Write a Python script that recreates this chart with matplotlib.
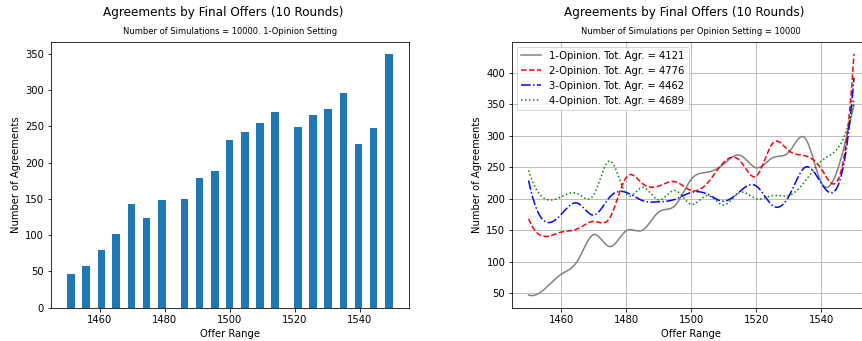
import numpy as np
import matplotlib
matplotlib.use("Agg")
import matplotlib.pyplot as plt

# ---- data ----
bar_offers = [1451.2, 1455.8, 1460.5, 1465.1, 1469.8, 1474.4, 1479.1, 1486.1, 1490.7,
              1495.4, 1500.0, 1504.7, 1509.4, 1514.0, 1521.0, 1525.7, 1530.3, 1535.0,
              1539.7, 1544.3, 1549.0]
bar_counts = [47, 57, 80, 101, 143, 124, 149, 150, 179, 189, 231, 242, 255, 269,
              249, 265, 274, 296, 225, 247, 349]

line_offers = [1450, 1455, 1460, 1465, 1470, 1475, 1480, 1485, 1490, 1495, 1500,
               1505, 1510, 1515, 1520, 1525, 1530, 1535, 1540, 1545, 1550]
op1 = bar_counts
op2 = [168, 140, 147, 152, 164, 170, 234, 224, 220, 227, 213, 225, 258, 260, 236,
       288, 276, 268, 247, 229, 430]
op3 = [229, 164, 175, 193, 174, 203, 210, 197, 195, 199, 210, 207, 196, 212, 220,
       189, 204, 250, 224, 220, 392]
op4 = [245, 200, 203, 208, 206, 260, 207, 218, 198, 213, 191, 205, 190, 210, 200,
       205, 205, 228, 260, 280, 357]
labels = ["1-Opinion. Tot. Agr. = 4121", "2-Opinion. Tot. Agr. = 4776",
          "3-Opinion. Tot. Agr. = 4462", "4-Opinion. Tot. Agr. = 4689"]
colors = ["gray", "red", "blue", "green"]
styles = ["-", "--", "-.", ":"]

main_title = "Agreements by Final Offers (10 Rounds)"
sub_left = "Number of Simulations = 10000. 1-Opinion Setting"
sub_right = "Number of Simulations per Opinion Setting = 10000"


def spline(x, y, xs):
    """Cubic interpolating spline with not-a-knot end conditions."""
    x = np.asarray(x, float); y = np.asarray(y, float)
    n = len(x); h = np.diff(x)
    A = np.zeros((n, n)); b = np.zeros(n)
    A[0, 0], A[0, 1], A[0, 2] = h[1], -(h[0] + h[1]), h[0]
    A[-1, -3], A[-1, -2], A[-1, -1] = h[-1], -(h[-2] + h[-1]), h[-2]
    for i in range(1, n - 1):
        A[i, i - 1] = h[i - 1]
        A[i, i] = 2 * (h[i - 1] + h[i])
        A[i, i + 1] = h[i]
        b[i] = 6 * ((y[i + 1] - y[i]) / h[i] - (y[i] - y[i - 1]) / h[i - 1])
    M = np.linalg.solve(A, b)
    idx = np.clip(np.searchsorted(x, xs) - 1, 0, n - 2)
    x0, x1 = x[idx], x[idx + 1]; hh = x1 - x0
    return (M[idx] * (x1 - xs) ** 3 / (6 * hh) + M[idx + 1] * (xs - x0) ** 3 / (6 * hh)
            + (y[idx] / hh - M[idx] * hh / 6) * (x1 - xs)
            + (y[idx + 1] / hh - M[idx + 1] * hh / 6) * (xs - x0))


W, H, DPI = 862, 341, 72
fig = plt.figure(figsize=(W / DPI, H / DPI), dpi=DPI)
axL = fig.add_axes([51 / W, (H - 307.7) / H, 358 / W, 266 / H])
axR = fig.add_axes([512.3 / W, (H - 307.7) / H, 358 / W, 266 / H])

axL.bar(bar_offers, bar_counts, width=2.33, color="#1f77b4")
axL.set_xlabel("Offer Range")
axL.set_ylabel("Number of Agreements")
axL.set_xticks([1460, 1480, 1500, 1520, 1540])

xs = np.linspace(line_offers[0], line_offers[-1], 300)
for ys, lab, c, ls in zip([op1, op2, op3, op4], labels, colors, styles):
    axR.plot(xs, spline(line_offers, ys, xs), color=c, linestyle=ls, label=lab)
axR.grid(True)
axR.legend(loc="upper left")
axR.set_xlabel("Offer Range")
axR.set_ylabel("Number of Agreements")
axR.set_xticks([1460, 1480, 1500, 1520, 1540])

for ax, sub in [(axL, sub_left), (axR, sub_right)]:
    cx = ax.get_position().x0 * W + 179
    fig.text((cx - 7) / W, 1 - 12.5 / H, main_title,
             ha="center", va="center", fontsize=12)
    fig.text(cx / W, 1 - 31.5 / H, sub, ha="center", va="center", fontsize=8.4)

fig.savefig("out.png", dpi=DPI)
